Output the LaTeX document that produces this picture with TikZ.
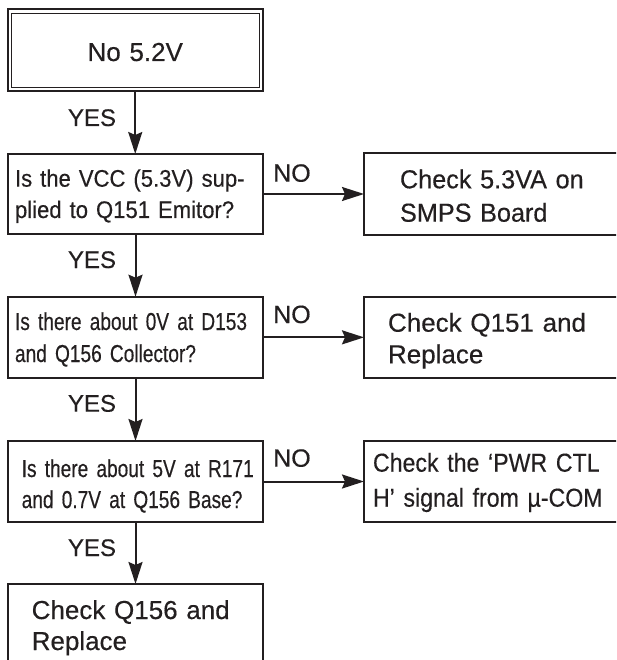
\documentclass[tikz,border=0pt]{standalone}
\usepackage{fontspec}
\setmainfont[FakeBold=0.35]{Liberation Sans}
\newfontfamily\narrowfont[FakeStretch=0.78,FakeBold=0.35]{Liberation Sans}
\newfontfamily\semifont[FakeStretch=0.89,FakeBold=0.35]{Liberation Sans}
\newfontfamily\qfont[FakeStretch=0.92,FakeBold=0.35]{Liberation Sans}
\newfontfamily\rfont[FakeStretch=0.97,FakeBold=0.35]{Liberation Sans}
\usetikzlibrary{arrows.meta}
\definecolor{ink}{HTML}{231F20}
\begin{document}
\begin{tikzpicture}[x=1pt,y=-1pt,
  box/.style={draw=ink, line width=2pt, rectangle, anchor=north west, inner ysep=0pt,
    outer sep=0pt, align=left, text=ink},
  arr/.style={draw=ink, line width=2pt, -{Stealth[length=22pt,width=14pt,inset=3pt]}},
  lbl/.style={text=ink, anchor=base, font=\fontsize{24pt}{28pt}\selectfont, inner sep=0pt},
  nolbl/.style={text=ink, anchor=base west, font=\fontsize{25pt}{28pt}\selectfont, inner sep=0pt},
]
\useasboundingbox (0,0) rectangle (616,660);
\fill[white] (0,0) rectangle (616,660);
\clip (0,0) rectangle (616,660);

% start box (double border)
\node[box, align=center, text width=255.5pt, inner xsep=0pt, text height=51.5pt, text depth=29.7pt,
  font=\fontsize{26pt}{33pt}\selectfont] (S) at (7.5,9.5) {No 5.2V};
\draw[ink, line width=0.9pt] ([shift={(3.5,3.5)}]S.north west) rectangle ([shift={(-3.5,-3.5)}]S.south east);

% left column
\node[box, text width=241pt, inner xsep=7pt, text height=32.7pt, text depth=47.3pt,
  font=\qfont\fontsize{24pt}{31.3pt}\selectfont] (B1) at (8,154)
  {\mbox{Is the VCC (5.3V) sup-}\\\mbox{plied to Q151 Emitor?}};
\node[box, text width=241pt, inner xsep=7pt, text height=33.3pt, text depth=48pt,
  font=\narrowfont\fontsize{24.5pt}{32pt}\selectfont] (B2) at (8,296.7)
  {\mbox{Is there about 0V at D153}\\\mbox{and Q156 Collector?}};
\node[box, text width=227.6pt, inner xsep=13.7pt, text height=36pt, text depth=45pt,
  font=\narrowfont\fontsize{24.5pt}{31pt}\selectfont] (B3) at (8,441)
  {\mbox{Is there about 5V at R171}\\\mbox{and 0.7V at Q156 Base?}};
\node[box, text width=207.6pt, inner xsep=23.7pt, text height=35pt, text depth=71pt,
  font=\fontsize{26pt}{31pt}\selectfont] (B4) at (8,584)
  {\mbox{Check Q156 and}\\\mbox{Replace}};

% right column
\node[box, text width=220pt, inner xsep=36pt, text height=35pt, text depth=46.7pt,
  font=\rfont\fontsize{26pt}{33.4pt}\selectfont] (R1) at (364,153.3)
  {\mbox{Check 5.3VA on}\\\mbox{SMPS Board}};
\node[box, text width=240pt, inner xsep=24pt, text height=34.4pt, text depth=46.6pt,
  font=\fontsize{26pt}{31.6pt}\selectfont] (R2) at (364,297.3)
  {\mbox{Check Q151 and}\\\mbox{Replace}};
\node[box, text width=260pt, inner xsep=9pt, text height=30.7pt, text depth=50.3pt,
  font=\semifont\fontsize{26pt}{35pt}\selectfont] (R3) at (364,441)
  {\mbox{Check the ‘PWR CTL}\\\mbox{H’ signal from µ-COM}};

% connectors
\draw[arr] (S.south) -- (S.south |- B1.north);
\draw[arr] (B1.south) -- (B1.south |- B2.north);
\draw[arr] (B2.south) -- (B2.south |- B3.north);
\draw[arr] (B3.south) -- (B3.south |- B4.north);
\draw[arr] (B1.east) -- (B1.east -| R1.west);
\draw[arr] (B2.east) -- (B2.east -| R2.west);
\draw[arr] (B3.east) -- (B3.east -| R3.west);

% labels
\node[lbl] (y1) at (92,126) {YES};
\node[lbl] (y2) at (92,268) {YES};
\node[lbl] (y3) at (92,411.7) {YES};
\node[lbl] (y4) at (92,556) {YES};
\node[nolbl] (n1) at (273,181.7) {NO};
\node[nolbl] (n2) at (273,323) {NO};
\node[nolbl] (n3) at (273,466.7) {NO};
\end{tikzpicture}
\end{document}
